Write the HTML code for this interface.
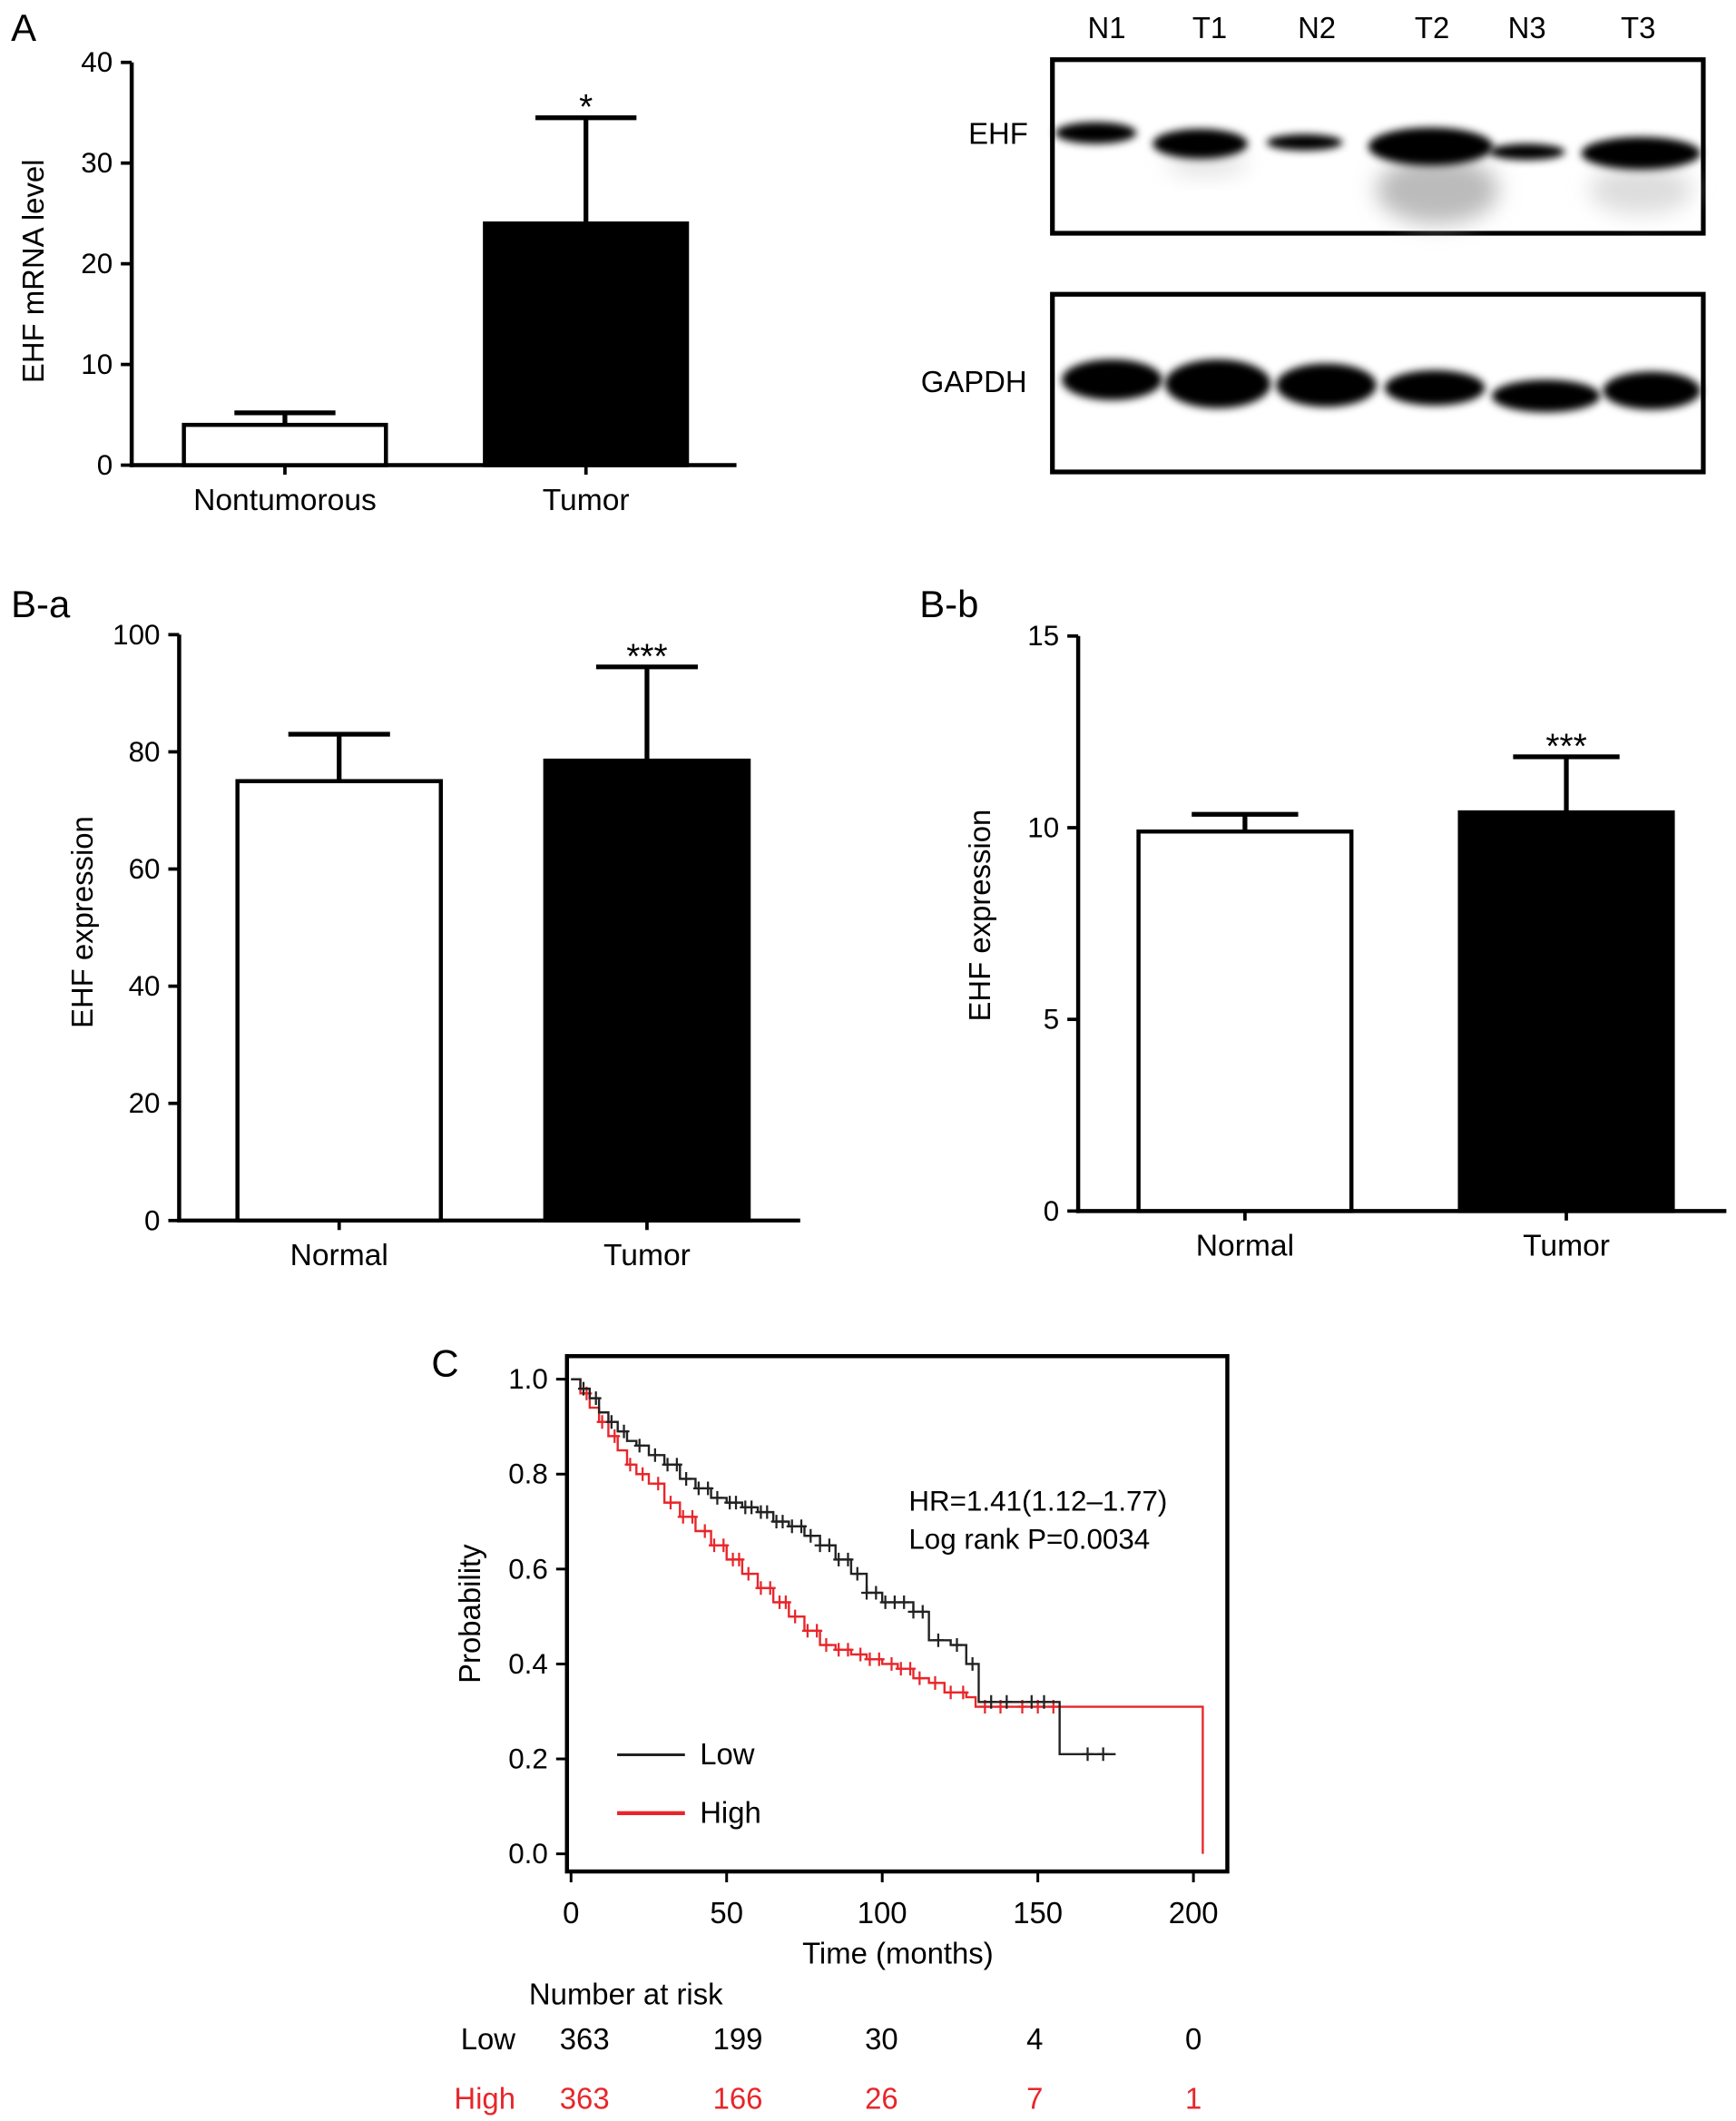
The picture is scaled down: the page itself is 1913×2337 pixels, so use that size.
<!DOCTYPE html>
<html><head><meta charset="utf-8"><style>
html,body{margin:0;padding:0;background:#fff;}
svg{display:block;font-family:"Liberation Sans",sans-serif;}
</style></head><body>
<svg id="fig" width="1913" height="2337" viewBox="0 0 1280 1564" xmlns="http://www.w3.org/2000/svg">
<defs>
<filter id="blur" x="-50%" y="-50%" width="200%" height="200%"><feGaussianBlur stdDeviation="3"/></filter>
<filter id="blur2" x="-50%" y="-50%" width="200%" height="200%"><feGaussianBlur stdDeviation="8"/></filter>
</defs>
<g id="root"></g>
</svg>
<script>
// ---- Panel A data ----
const aCats = ["Nontumorous","Tumor"];
const aVals = [4, 24];
const aErr = [5.2, 34.5];
const aTicks = [0,10,20,30,40];
const aSig = ["", "*"];
// ---- Panel B-a ----
const baCats = ["Normal","Tumor"];
const baVals = [75, 78.5];
const baErr = [83, 94.5];
const baTicks = [0,20,40,60,80,100];
const baSig = ["", "***"];
// ---- Panel B-b ----
const bbCats = ["Normal","Tumor"];
const bbVals = [9.9, 10.4];
const bbErr = [10.35, 11.85];
const bbTicks = [0,5,10,15];
const bbSig = ["", "***"];
// ---- Panel C (KM) ----
const lowT = [0,3,6,9,12,15,18,21,25,30,35,40,45,50,55,60,65,70,75,80,85,90,95,100,110,115,122,127,131,155,157,175];
const lowS = [1.0,0.98,0.96,0.93,0.91,0.89,0.87,0.86,0.84,0.82,0.79,0.77,0.75,0.74,0.73,0.72,0.70,0.69,0.67,0.65,0.62,0.59,0.55,0.53,0.51,0.45,0.44,0.40,0.32,0.32,0.21,0.21];
const highT = [0,3,6,9,12,15,18,21,25,30,35,40,45,50,55,60,65,70,75,80,85,90,95,100,105,110,115,120,127,130,203,203];
const highS = [1.0,0.97,0.94,0.91,0.88,0.85,0.82,0.80,0.78,0.74,0.71,0.68,0.65,0.62,0.59,0.56,0.53,0.50,0.47,0.44,0.43,0.42,0.41,0.40,0.39,0.37,0.36,0.34,0.33,0.31,0.31,0.0];
const lowCens = [4,8,13,17,22,27,31,34,37,41,44,47,51,53,56,58,61,63,66,68,71,74,77,80,83,86,89,92,95,98,101,104,107,110,113,118,124,129,135,140,148,152,166,171];
const highCens = [5,10,14,19,23,28,32,36,39,43,46,49,52,54,57,61,64,67,69,72,76,79,82,86,89,93,96,99,103,106,109,112,117,122,126,133,138,145,150,155];
const kmXTicks = [0,50,100,150,200];
const kmYTicks = [0,0.2,0.4,0.6,0.8,1.0];
const riskTimes = [0,50,100,150,200];
const riskLow = [363,199,30,4,0];
const riskHigh = [363,166,26,7,1];

const NS="http://www.w3.org/2000/svg";
const root=document.getElementById('root');
function mk(tag,attrs,parent,text){const e=document.createElementNS(NS,tag);for(const k in attrs)e.setAttribute(k,attrs[k]);if(text!==undefined)e.textContent=text;(parent||root).appendChild(e);return e;}

function barChart(o){
  const g=mk('g',{});
  
  
  const y=v=>o.y0-(v-o.vmin)/(o.vmax-o.vmin)*(o.y0-o.y1);
  const ax=mk('line',{x1:o.x0,y1:o.y1,x2:o.x0,y2:o.y0+1.5,stroke:'#000','stroke-width':3},g);
  
  
  const xx=mk('line',{x1:o.x0-1.5,y1:o.y0,x2:o.x2,y2:o.y0,stroke:'#000','stroke-width':3},g);
  
  
  o.ticks.forEach(t=>{
    const l=mk('line',{x1:o.x0-8,x2:o.x0,y1:y(t),y2:y(t),stroke:'#000','stroke-width':2.5},g);
    
    
    const tx=mk('text',{x:o.x0-14,y:y(t)+7,'text-anchor':'end','font-size':21},g,String(t));
    
    
  });
  o.cats.forEach((c,i)=>{
    const cx=o.centers[i], w=o.bw;
    const r=mk('rect',{x:cx-w/2,y:y(o.vals[i]),width:w,height:o.y0-y(o.vals[i]),fill:i?'#000':'#fff',stroke:'#000','stroke-width':3},g);
    
    
    const e=mk('path',{d:`M${cx},${y(o.vals[i])} V${y(o.err[i])} M${cx-w/4},${y(o.err[i])} H${cx+w/4}`,stroke:'#000','stroke-width':3.5,fill:'none'},g);
    
    
    const tk=mk('line',{x1:cx,x2:cx,y1:o.y0,y2:o.y0+7,stroke:'#000','stroke-width':2.5},g);
    
    
    const lb=mk('text',{x:cx,y:o.y0+33,'text-anchor':'middle','font-size':22.5},g,c);
    
    
    if(o.sig[i]){const s=mk('text',{x:cx,y:y(o.err[i])+1,'text-anchor':'middle','font-size':26},g,o.sig[i]);
      
      }
  });
  const t=mk('text',{transform:`translate(${o.tx},${o.ty}) rotate(-90)`,'text-anchor':'middle','font-size':22},g,o.title);
  
  
}
function label(x,y,s,name,size){const t=mk('text',{x:x,y:y,'font-size':size||28},root,s);}

label(8,30,'A','panel-a-label');
barChart({name:'panel-a-chart',x0:97,x2:543,y0:343,y1:46,vmin:0,vmax:40,ticks:aTicks,cats:aCats,vals:aVals,err:aErr,sig:aSig,centers:[210,432],bw:149,title:'EHF mRNA level',tx:32,ty:200});
label(8,455,'B-a','panel-ba-label');
barChart({name:'panel-ba-chart',x0:132,x2:590,y0:900,y1:468,vmin:0,vmax:100,ticks:baTicks,cats:baCats,vals:baVals,err:baErr,sig:baSig,centers:[250,477],bw:150,title:'EHF expression',tx:68,ty:680});
label(678,455,'B-b','panel-bb-label');
barChart({name:'panel-bb-chart',x0:795,x2:1273,y0:893,y1:469,vmin:0,vmax:15,ticks:bbTicks,cats:bbCats,vals:bbVals,err:bbErr,sig:bbSig,centers:[918,1155],bw:157,title:'EHF expression',tx:730,ty:675});

// ---- Western blot ----
const lanes=["N1","T1","N2","T2","N3","T3"];
const laneX=[816,892,971,1056,1126,1208];
lanes.forEach((l,i)=>{const t=mk('text',{x:laneX[i],y:28,'text-anchor':'middle','font-size':22},root,l);});
const b1=mk('rect',{x:776,y:44,width:480,height:128,fill:'#fff',stroke:'#000','stroke-width':3.5});


const b2=mk('rect',{x:776,y:217,width:480,height:131,fill:'#fff',stroke:'#000','stroke-width':3.5});


label(714,106,'EHF','ehf-label',22);
label(679,289,'GAPDH','gapdh-label',22);
const bandsG=mk('g',{});


[[1060,140,45,25,'#bbb'],[1210,140,38,18,'#ddd'],[890,120,30,10,'#e4e4e4']].forEach(b=>mk('ellipse',{cx:b[0],cy:b[1],rx:b[2],ry:b[3],fill:b[4],filter:'url(#blur2)'},bandsG));
[[808,98,30,8],[885,106,35,11],[962,105,28,6],[1055,108,46,14],[1126,112,28,6],[1210,113,44,12]].forEach(b=>mk('ellipse',{cx:b[0],cy:b[1],rx:b[2],ry:b[3],fill:'#000',filter:'url(#blur)'},bandsG));
[[820,280,37,15],[898,283,39,18],[978,284,37,16],[1058,286,37,13],[1140,292,40,12],[1218,288,36,14]].forEach(b=>mk('ellipse',{cx:b[0],cy:b[1],rx:b[2],ry:b[3],fill:'#000',filter:'url(#blur)'},bandsG));

// ---- Panel C ----
label(318,1015,'C','panel-c-label');
const kx=t=>421+t*2.295, ky=s=>1367-s*350;
const box=mk('rect',{x:418,y:1000,width:487,height:380,fill:'none',stroke:'#000','stroke-width':3});


kmXTicks.forEach(t=>{const l=mk('line',{x1:kx(t),x2:kx(t),y1:1380,y2:1388,stroke:'#000','stroke-width':2});
 const tx=mk('text',{x:kx(t),y:1418,'text-anchor':'middle','font-size':22},root,String(t));});
kmYTicks.forEach(s=>{const l=mk('line',{x1:410,x2:418,y1:ky(s),y2:ky(s),stroke:'#000','stroke-width':2});
 const tx=mk('text',{x:404,y:ky(s)+7,'text-anchor':'end','font-size':21},root,s.toFixed(1));});
const xt=mk('text',{x:662,y:1448,'text-anchor':'middle','font-size':22},root,'Time (months)');
const yt=mk('text',{transform:'translate(354,1190) rotate(-90)','text-anchor':'middle','font-size':22},root,'Probability');
function stepAt(T,S,t){let v=S[0];for(let i=0;i<T.length;i++){if(T[i]<=t)v=S[i];}return v;}
function km(T,S,cens,color,name,w){
  let d=`M${kx(T[0])},${ky(S[0])}`;
  for(let i=1;i<T.length;i++){d+=` H${kx(T[i])} V${ky(S[i])}`;}
  const p=mk('path',{d:d,fill:'none',stroke:color,'stroke-width':w});
  
  
  cens.forEach(c=>{const s=stepAt(T,S,c);const m=mk('path',{d:`M${kx(c)},${ky(s)-5} v10 M${kx(c)-4},${ky(s)} h8`,stroke:color,'stroke-width':1.5});
    
    });
}
km(highT,highS,highCens,'#e8262a','high',1.6);
km(lowT,lowS,lowCens,'#222','low',1.6);
label(670,1114,'HR=1.41(1.12\u20131.77)','hazard-ratio-text',21);
label(670,1142,'Log rank P=0.0034','log-rank-text',21);
const ll=mk('line',{x1:455,x2:505,y1:1294,y2:1294,stroke:'#222','stroke-width':2});
label(516,1301,'Low','legend-low-label',22);
const lh=mk('line',{x1:455,x2:505,y1:1337,y2:1337,stroke:'#e8262a','stroke-width':3});
label(516,1344,'High','legend-high-label',22);
label(390,1478,'Number at risk','risk-table-title',22);
const rt=mk('text',{x:380,y:1511,'text-anchor':'end','font-size':22},root,'Low');
const rh=mk('text',{x:380,y:1555,'text-anchor':'end','font-size':22,fill:'#e8262a'},root,'High');
const riskX=[431,544,650,763,880];
riskTimes.forEach((t,i)=>{
  const a=mk('text',{x:riskX[i],y:1511,'text-anchor':'middle','font-size':22},root,String(riskLow[i]));
  const b=mk('text',{x:riskX[i],y:1555,'text-anchor':'middle','font-size':22,fill:'#e8262a'},root,String(riskHigh[i]));
});
</script>
</body></html>
